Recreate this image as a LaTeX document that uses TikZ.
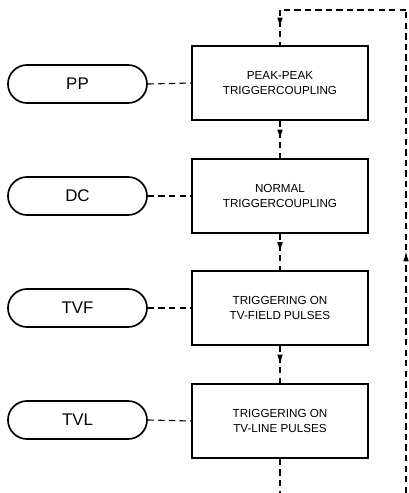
\documentclass[tikz,border=0pt]{standalone}
\usepackage{fontspec}
\setmainfont{Liberation Sans}
\usetikzlibrary{arrows.meta,decorations.markings}

\tikzset{
  modebox/.style={draw=black, line width=1.3pt, rectangle,
    minimum width=4.4cm, minimum height=1.85cm, inner sep=0pt,
    align=center, font=\fontsize{8.3}{11}\selectfont},
  modekey/.style={draw=black, line width=1.2pt, rectangle,
    rounded corners=0.475cm, minimum width=3.475cm, minimum height=0.95cm,
    inner sep=0pt, font=\fontsize{12}{14}\selectfont},
  link/.style={line width=0.8pt, dash pattern=on 4.5pt off 3pt},
  midarrow/.style={postaction={decorate}, decoration={markings,
    mark=at position 0.5 with {\arrow{Latex[length=7pt,width=4pt]}}}}
}

\begin{document}
\begin{tikzpicture}[x=0.025cm,y=-0.025cm]
  \useasboundingbox (0,0) rectangle (408,493);
  % trigger coupling modes
  \node[modebox] (peak) at (280,83) {PEAK-PEAK\\TRIGGERCOUPLING};
  \node[modebox] (normal) at (280,196) {NORMAL\\TRIGGERCOUPLING};
  \node[modebox] (tvfield) at (280,308) {TRIGGERING ON\\TV-FIELD PULSES};
  \node[modebox] (tvline) at (280,421) {TRIGGERING ON\\TV-LINE PULSES};
  % keys
  \node[modekey] (pp) at (77.5,84) {PP};
  \node[modekey] (dc) at (77.5,196) {DC};
  \node[modekey] (tvf) at (77.5,308) {TVF};
  \node[modekey] (tvl) at (77.5,420) {TVL};
  \draw[link] (pp.east) -- (peak.west);
  \draw[link] (dc.east) -- (normal.west);
  \draw[link] (tvf.east) -- (tvfield.west);
  \draw[link] (tvl.east) -- (tvline.west);
  % cycle
  \coordinate (top) at (280,10);
  \coordinate (corner) at (406,10);
  \coordinate (rbot) at (406,493);
  \coordinate (bot) at (280,493);
  \draw[link,midarrow] (top) -- (peak.north);
  \draw[link,midarrow] (peak.south) -- (normal.north);
  \draw[link,midarrow] (normal.south) -- (tvfield.north);
  \draw[link,midarrow] (tvfield.south) -- (tvline.north);
  \draw[link] (tvline.south) -- (bot);
  \draw[link,midarrow] (rbot) -- (corner);
  \draw[link] (corner) -- (top);
\end{tikzpicture}
\end{document}
